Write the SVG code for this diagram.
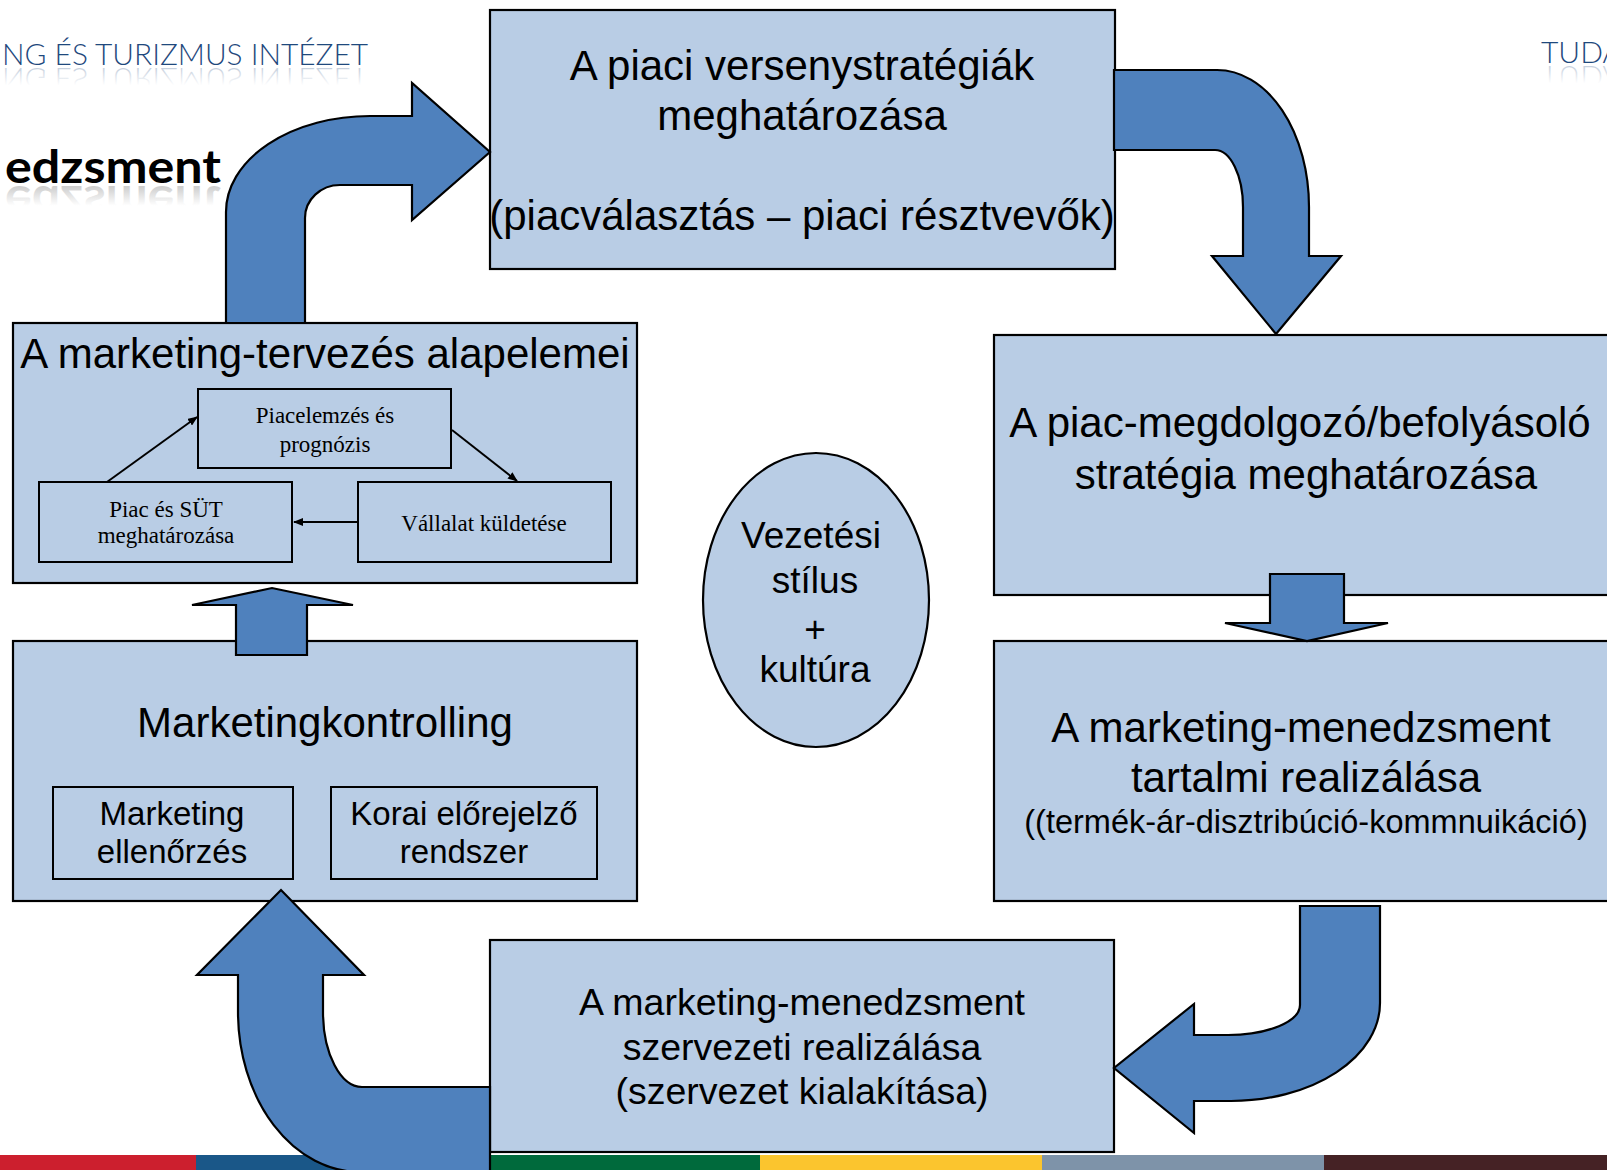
<svg xmlns="http://www.w3.org/2000/svg" width="1607" height="1170" viewBox="0 0 1607 1170">
<style>
.box{fill:#B9CDE5;stroke:#000;stroke-width:2.2}
.sub{fill:#B9CDE5;stroke:#000;stroke-width:2}
.arrow{fill:#4F81BD;stroke:#000;stroke-width:2.2;stroke-linejoin:miter}
.t{font-family:"Liberation Sans",Arial,sans-serif;fill:#000;text-anchor:middle}
.s{font-family:"Liberation Serif","Times New Roman",serif;fill:#000;text-anchor:middle;font-size:23px}
.hdr{font-family:Lato,"Open Sans","DejaVu Sans",sans-serif;font-weight:300;font-size:30px}
.thin{stroke:#000;stroke-width:2;fill:none}
</style>
<defs>
<linearGradient id="fadeBlue" x1="0" y1="0" x2="0" y2="1">
<stop offset="0.35" stop-color="#1F497D" stop-opacity="0"/>
<stop offset="1" stop-color="#1F497D" stop-opacity="0.35"/>
</linearGradient>
<linearGradient id="fadeBlack" x1="0" y1="0" x2="0" y2="1">
<stop offset="0.45" stop-color="#000" stop-opacity="0"/>
<stop offset="1" stop-color="#000" stop-opacity="0.3"/>
</linearGradient>
<marker id="ah" markerWidth="10" markerHeight="8" refX="9" refY="4" orient="auto" markerUnits="userSpaceOnUse">
<path d="M0,0 L10,4 L0,8 Z" fill="#000"/>
</marker>
</defs>

<g id="header">
<text class="hdr" x="2" y="65" fill="#1F497D" textLength="366" lengthAdjust="spacingAndGlyphs">NG ÉS TURIZMUS INTÉZET</text>
<text class="hdr" x="2" y="65" fill="url(#fadeBlue)" textLength="366" lengthAdjust="spacingAndGlyphs" transform="translate(0,133) scale(1,-1)">NG ÉS TURIZMUS INTÉZET</text>
<text class="hdr" x="1541" y="63" fill="#1F497D">TUDA</text>
<text class="hdr" x="1541" y="63" fill="url(#fadeBlue)" transform="translate(0,129) scale(1,-1)">TUDA</text>
<text x="5" y="183" font-family="Lato,'Open Sans','DejaVu Sans',sans-serif" font-weight="700" font-size="45" fill="#000" textLength="216" lengthAdjust="spacingAndGlyphs">edzsment</text>
<text x="5" y="183" font-family="Lato,'Open Sans','DejaVu Sans',sans-serif" font-weight="700" font-size="45" fill="url(#fadeBlack)" textLength="216" lengthAdjust="spacingAndGlyphs" transform="translate(0,369) scale(1,-1)">edzsment</text>
</g>

<g id="colorbar">
<rect x="0" y="1155" width="196" height="15" fill="#CC1F2E"/>
<rect x="196" y="1155" width="295" height="15" fill="#1A5788"/>
<rect x="491" y="1155" width="269" height="15" fill="#006A3C"/>
<rect x="760" y="1155" width="282" height="15" fill="#FBC52E"/>
<rect x="1042" y="1155" width="282" height="15" fill="#7E93A9"/>
<rect x="1324" y="1155" width="283" height="15" fill="#452225"/>
</g>

<g id="node-versenystrategia">
<rect class="box" x="490" y="10" width="625" height="259"/>
<text class="t" font-size="42" x="802" y="80">A piaci versenystratégiák</text>
<text class="t" font-size="42" x="802" y="130">meghatározása</text>
<text class="t" font-size="42" x="802" y="230">(piacválasztás – piaci résztvevők)</text>
</g>

<g id="node-piacmegdolgozo">
<rect class="box" x="994" y="335" width="640" height="260"/>
<text class="t" font-size="42" x="1300" y="437">A piac-megdolgozó/befolyásoló</text>
<text class="t" font-size="42" x="1306" y="489">stratégia meghatározása</text>
</g>

<g id="node-tartalmi">
<rect class="box" x="994" y="641" width="640" height="260"/>
<text class="t" font-size="42" x="1301" y="742">A marketing-menedzsment</text>
<text class="t" font-size="42" x="1306" y="792">tartalmi realizálása</text>
<text class="t" font-size="32.5" x="1306" y="833">((termék-ár-disztribúció-kommnuikáció)</text>
</g>

<g id="node-szervezeti">
<rect class="box" x="490" y="940" width="624" height="212"/>
<text class="t" font-size="37.5" x="802" y="1015">A marketing-menedzsment</text>
<text class="t" font-size="37.5" x="802" y="1060">szervezeti realizálása</text>
<text class="t" font-size="37.5" x="802" y="1104">(szervezet kialakítása)</text>
</g>

<g id="node-kontrolling">
<rect class="box" x="13" y="641" width="624" height="260"/>
<text class="t" font-size="42" x="325" y="737">Marketingkontrolling</text>
<g id="node-ellenorzes">
<rect class="sub" x="53" y="787" width="240" height="92"/>
<text class="t" font-size="33" x="172" y="825">Marketing</text>
<text class="t" font-size="33" x="172" y="863">ellenőrzés</text>
</g>
<g id="node-korai">
<rect class="sub" x="331" y="787" width="266" height="92"/>
<text class="t" font-size="33" x="464" y="825">Korai előrejelző</text>
<text class="t" font-size="33" x="464" y="863">rendszer</text>
</g>
</g>

<g id="node-tervezes">
<rect class="box" x="13" y="323" width="624" height="260"/>
<text class="t" font-size="42" x="325" y="368">A marketing-tervezés alapelemei</text>
<g id="node-piacelemzes">
<rect class="sub" x="198" y="389" width="253" height="79"/>
<text class="s" x="325" y="423">Piacelemzés és</text>
<text class="s" x="325" y="452">prognózis</text>
</g>
<g id="node-piacsut">
<rect class="sub" x="39" y="482" width="253" height="80"/>
<text class="s" x="166" y="517">Piac és SÜT</text>
<text class="s" x="166" y="543">meghatározása</text>
</g>
<g id="node-kuldetes">
<rect class="sub" x="358" y="482" width="253" height="80"/>
<text class="s" x="484" y="531">Vállalat küldetése</text>
</g>
</g>

<g id="node-vezetesi">
<ellipse class="box" cx="816" cy="600" rx="113" ry="147"/>
<text class="t" font-size="37" x="811" y="548">Vezetési</text>
<text class="t" font-size="37" x="815" y="593">stílus</text>
<text class="t" font-size="37" x="815" y="642">+</text>
<text class="t" font-size="37" x="815" y="682">kultúra</text>
</g>

<g id="connectors">
<line class="thin" x1="107" y1="482" x2="197" y2="417" marker-end="url(#ah)"/>
<line class="thin" x1="452" y1="430" x2="517" y2="481" marker-end="url(#ah)"/>
<line class="thin" x1="358" y1="522" x2="294" y2="522" marker-end="url(#ah)"/>
<path class="arrow" d="M 226 323 L 226 212 A 144 96 0 0 1 370 116 L 412 116 L 412 83 L 490 152 L 412 220 L 412 185 L 340 185 A 35 33 0 0 0 305 218 L 305 323 Z"/>
<path class="arrow" d="M 1114 70 L 1217 70 A 92 137 0 0 1 1309 207 L 1309 256 L 1341 256 L 1276 334 L 1212 256 L 1243 256 L 1243 207 A 28 57 0 0 0 1215 150 L 1114 150 Z"/>
<path class="arrow" d="M 1270 574 L 1344 574 L 1344 623 L 1388 623 L 1307 641 L 1225 623 L 1270 623 Z"/>
<path class="arrow" d="M 1300 906 L 1380 906 L 1380 1003 A 149 98 0 0 1 1231 1101 L 1194 1101 L 1194 1133 L 1114 1068 L 1194 1004 L 1194 1035 L 1228 1035 A 72 30 0 0 0 1300 1005 Z"/>
<path class="arrow" d="M 490 1087 L 362 1087 A 39 75 0 0 1 323 1012 L 323 975 L 364 975 L 281 890 L 197 975 L 238 975 L 238 1012 A 122 160 0 0 0 360 1172 L 490 1172 Z"/>
<path class="arrow" d="M 236 655 L 236 605 L 192 605 L 272 588 L 353 605 L 307 605 L 307 655 Z"/>
</g>
</svg>
